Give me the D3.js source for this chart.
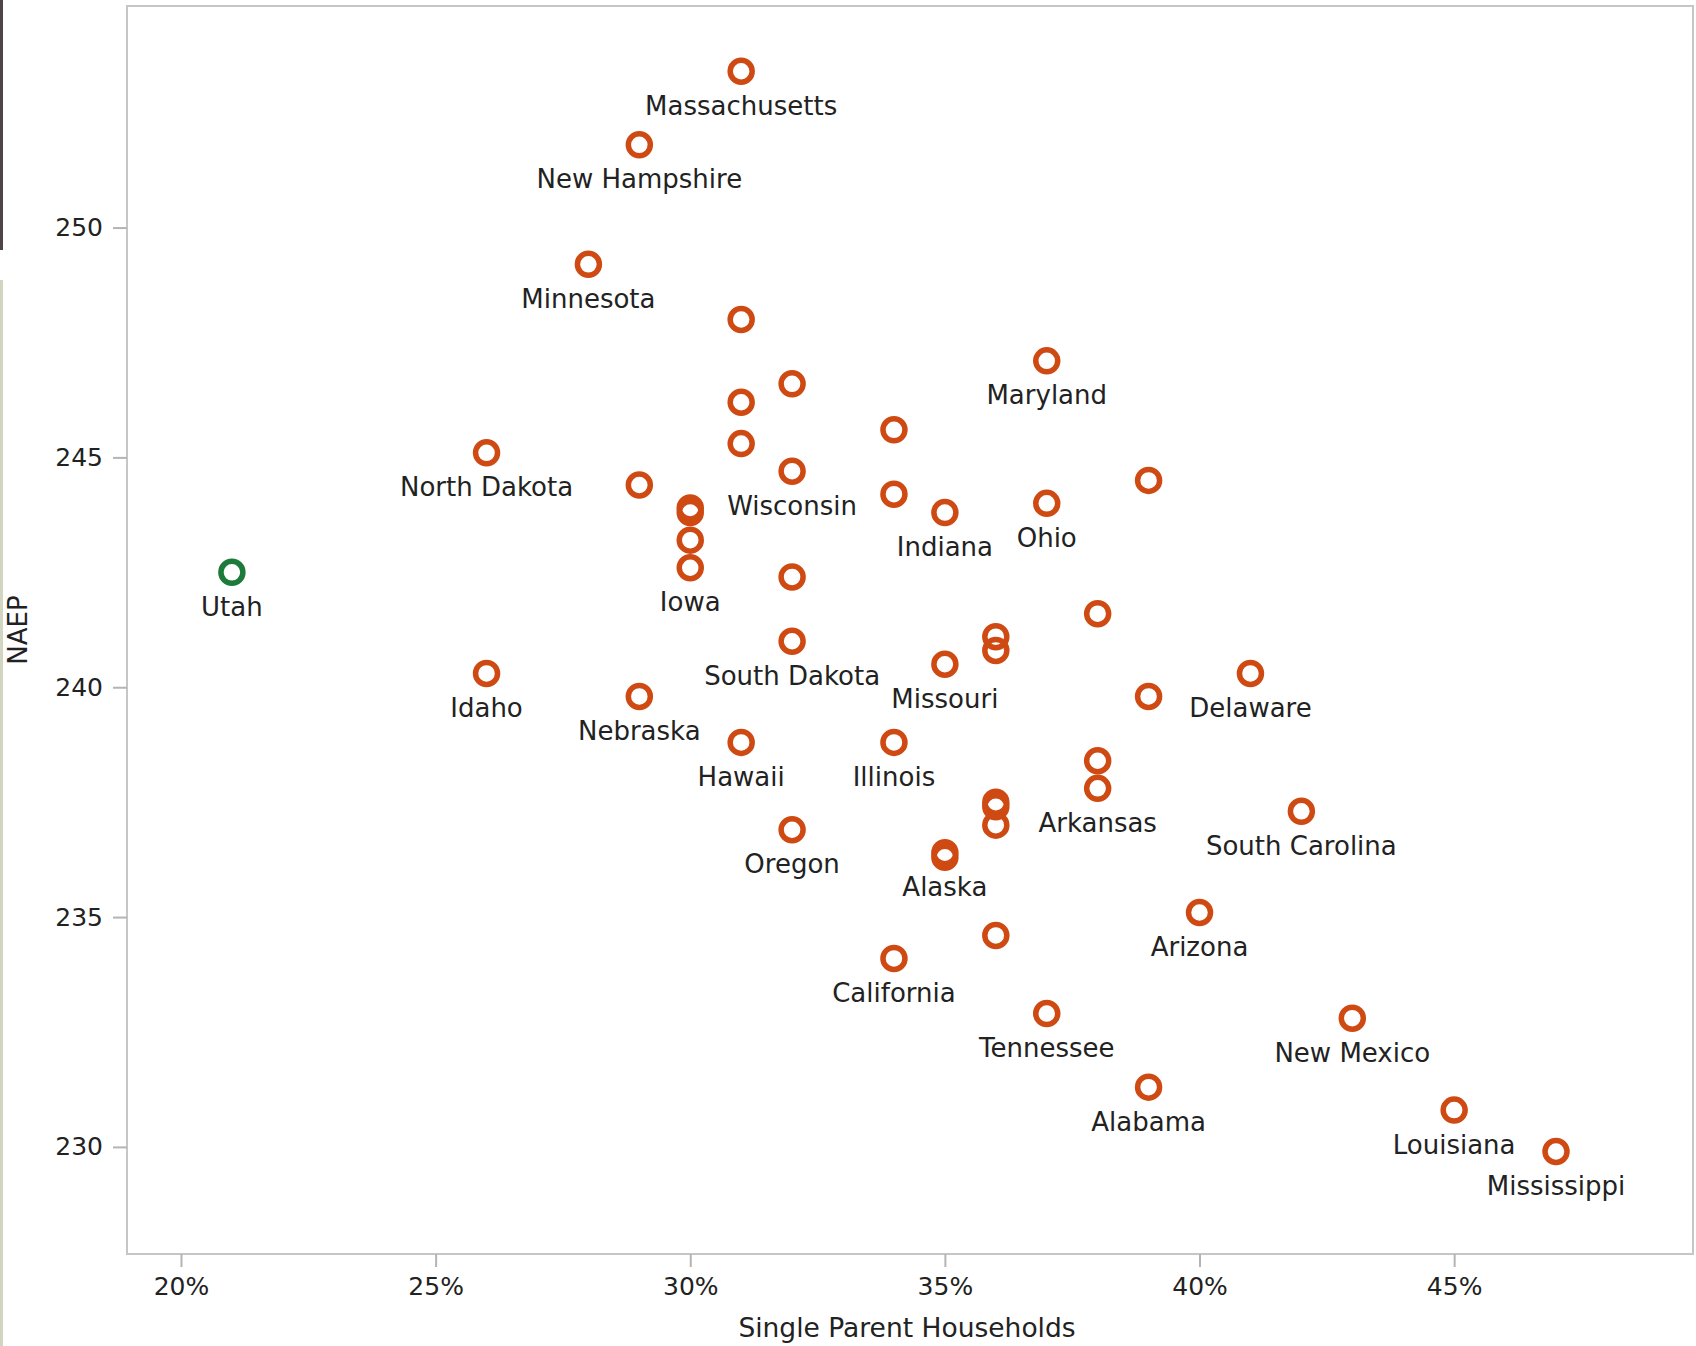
<!DOCTYPE html>
<html>
<head>
<meta charset="utf-8">
<script src="https://cdn.jsdelivr.net/npm/d3@7"></script>
<style>
    body { margin: 0; background: #fff; }
    svg { display: block; }
    text { font-family: "DejaVu Sans", sans-serif; fill: #222; }
</style>
</head>
<body>
<div id="chart"></div>
<script>
/* NAEP score vs single parent households, by state */

// labels left blank where the reference shows no name
const STATES = [
    'Massachusetts', 'New Hampshire', 'Minnesota', '', 'Maryland', '', '', '', '', 'North Dakota',
    '', 'Wisconsin', '', '', '', '', 'Indiana', 'Ohio', '', 'Iowa',
    'Utah', '', '', '', '', 'South Dakota', 'Missouri', 'Delaware', 'Idaho', 'Nebraska',
    '', 'Hawaii', 'Illinois', '', 'Arkansas', '', '', '', 'South Carolina', 'Oregon',
    'Alaska', '', 'Arizona', '', 'California', 'Tennessee', 'New Mexico', 'Alabama', 'Louisiana', 'Mississippi'
];

const SINGLE_PARENT = [
    31, 29, 28, 31, 37, 32, 31, 34, 31, 26,
    29, 32, 39, 34, 30, 30, 35, 37, 30, 30,
    21, 32, 38, 36, 36, 32, 35, 41, 26, 29,
    39, 31, 34, 38, 38, 36, 36, 36, 42, 32,
    35, 35, 40, 36, 34, 37, 43, 39, 45, 47
];

const NAEP = [
    253.4, 251.8, 249.2, 248.0, 247.1, 246.6, 246.2, 245.6, 245.3, 245.1,
    244.4, 244.7, 244.5, 244.2, 243.9, 243.8, 243.8, 244.0, 243.2, 242.6,
    242.5, 242.4, 241.6, 241.1, 240.8, 241.0, 240.5, 240.3, 240.3, 239.8,
    239.8, 238.8, 238.8, 238.4, 237.8, 237.5, 237.4, 237.0, 237.3, 236.9,
    236.4, 236.3, 235.1, 234.6, 234.1, 232.9, 232.8, 231.3, 230.8, 229.9
];

const X_TICKS = [20, 25, 30, 35, 40, 45];
const Y_TICKS = [230, 235, 240, 245, 250];
const HIGHLIGHT = 'Utah';

const WIDTH = 1696, HEIGHT = 1346;
const plot = { left: 127, right: 1693, top: 6, bottom: 1254 };

const data = STATES.map((s, i) => ({ name: s, x: SINGLE_PARENT[i], y: NAEP[i] }));

const x = d3.scaleLinear().domain([18.94, 49.69]).range([plot.left, plot.right]);
const y = d3.scaleLinear().domain([227.67, 254.82]).range([plot.bottom, plot.top]);

const svg = d3.select('#chart').append('svg')
    .attr('width', WIDTH)
    .attr('height', HEIGHT);

// side strips from the page the chart was cut from
svg.append('rect').attr('x', 0).attr('y', 0).attr('width', 3).attr('height', 250).attr('fill', '#4d4545');
svg.append('rect').attr('x', 0).attr('y', 280).attr('width', 3).attr('height', HEIGHT - 280).attr('fill', '#d2d6c0');

// frame
svg.append('rect')
    .attr('x', plot.left).attr('y', plot.top)
    .attr('width', plot.right - plot.left)
    .attr('height', plot.bottom - plot.top)
    .attr('fill', 'none')
    .attr('stroke', '#c6c6c6')
    .attr('stroke-width', 2);

// x axis
const xAxis = svg.append('g')
    .attr('transform', `translate(0,${plot.bottom})`)
    .call(d3.axisBottom(x).tickValues(X_TICKS).tickFormat(d => d + '%').tickSize(13).tickSizeOuter(0).tickPadding(10));
xAxis.select('.domain').remove();
xAxis.selectAll('line').attr('stroke', '#b4b4b4').attr('stroke-width', 2);
xAxis.selectAll('text').attr('font-size', 25).attr('fill', '#222').style('font-family', '"DejaVu Sans", sans-serif');

// y axis
const yAxis = svg.append('g')
    .attr('transform', `translate(${plot.left},0)`)
    .call(d3.axisLeft(y).tickValues(Y_TICKS).tickSize(14).tickSizeOuter(0).tickPadding(10));
yAxis.select('.domain').remove();
yAxis.selectAll('line').attr('stroke', '#b4b4b4').attr('stroke-width', 2);
yAxis.selectAll('text').attr('font-size', 25).attr('fill', '#222').style('font-family', '"DejaVu Sans", sans-serif');

// axis titles
svg.append('text')
    .attr('x', (plot.left + plot.right) / 2 - 3)
    .attr('y', 1337)
    .attr('text-anchor', 'middle')
    .attr('font-size', 26.5)
    .text('Single Parent Households');

svg.append('text')
    .attr('transform', `translate(27,${(plot.top + plot.bottom) / 2}) rotate(-90)`)
    .attr('text-anchor', 'middle')
    .attr('font-size', 26)
    .text('NAEP');

// points
const pts = svg.append('g');
pts.selectAll('circle')
    .data(data)
    .join('circle')
    .attr('cx', d => x(d.x))
    .attr('cy', d => y(d.y))
    .attr('r', 11)
    .attr('fill', 'none')
    .attr('stroke', d => d.name === HIGHLIGHT ? '#1d7a3a' : '#cf4a12')
    .attr('stroke-width', 5.5);

// labels
svg.append('g').selectAll('text')
    .data(data.filter(d => d.name))
    .join('text')
    .attr('x', d => x(d.x))
    .attr('y', d => y(d.y) + 43.5)
    .attr('text-anchor', 'middle')
    .attr('font-size', 26)
    .text(d => d.name);
</script>
</body>
</html>
